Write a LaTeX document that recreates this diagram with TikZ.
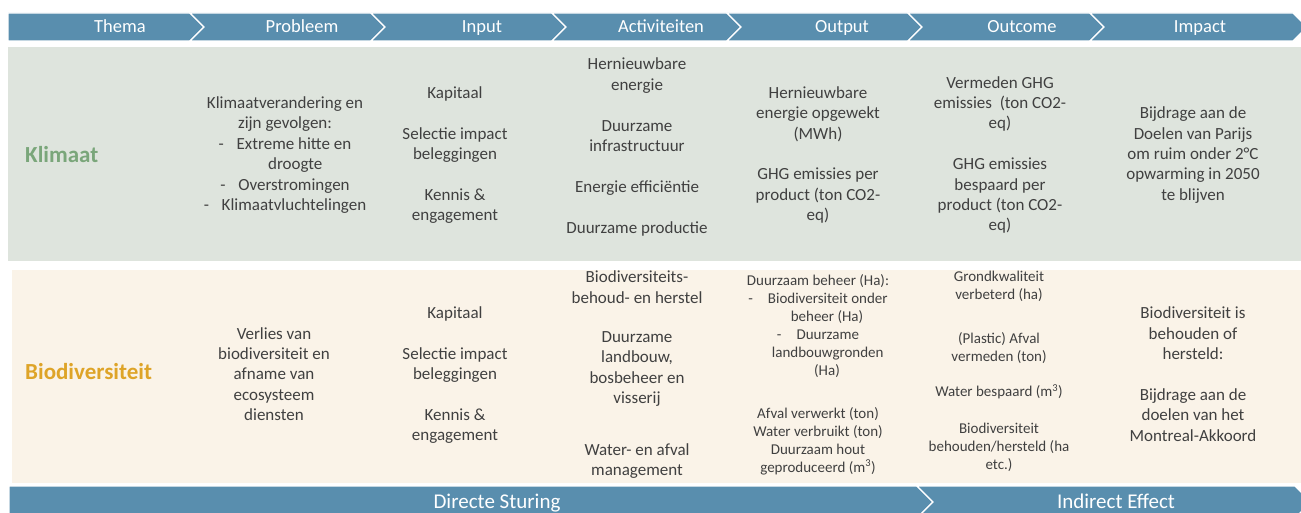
\documentclass[tikz,border=0pt]{standalone}
\usepackage{fontspec}
\setmainfont{Carlito}
\usepackage{tikz}
\usetikzlibrary{positioning}
\definecolor{barblue}{HTML}{598EAE}
\definecolor{klimbg}{HTML}{DEE4DD}
\definecolor{biobg}{HTML}{FAF3E8}
\definecolor{klimgreen}{HTML}{7AA67A}
\definecolor{biogold}{HTML}{DEA428}
\definecolor{bodytext}{HTML}{404040}
\tikzstyle{barseg} = [fill=barblue, draw=white, line width=1.2pt, line join=miter]
\tikzstyle{hdr} = [text=white, anchor=base, inner sep=0pt, font=\fontsize{18.5}{22}\selectfont]
\tikzstyle{foot} = [text=white, anchor=base, inner sep=0pt, font=\fontsize{21}{25}\selectfont]
\tikzstyle{cell} = [text=bodytext, align=center, inner sep=0pt, font=\fontsize{17}{20.4}\selectfont]
\tikzstyle{smallcell} = [cell, font=\fontsize{15}{18}\selectfont]
\tikzstyle{theme} = [anchor=west, inner sep=0pt, font=\fontsize{23}{27}\selectfont\bfseries]

\begin{document}
\begin{tikzpicture}[x=1pt, y=-1pt]

  \useasboundingbox (0,0) rectangle (1301,513);
  \clip (0,0) rectangle (1301,513);

  % Header chevrons
  \draw[barseg] (8,13) -- (190,13) -- (204,27) -- (190,41) -- (8,41) -- cycle;
  \foreach \a/\b in {190/371, 371/552, 552/727, 727/908, 908/1090, 1090/1293}
    \draw[barseg] (\a,13) -- (\b,13) -- (\b+14,27) -- (\b,41) -- (\a,41) -- (\a+14,27) -- cycle;

  \node[hdr] (hthema) at (120,33) {Thema};
  \node[hdr] (hprobleem) at (302,33) {Probleem};
  \node[hdr] (hinput) at (482,33) {Input};
  \node[hdr] (hactiv) at (661,33) {Activiteiten};
  \node[hdr] (houtput) at (842,33) {Output};
  \node[hdr] (houtcome) at (1022,33) {Outcome};
  \node[hdr] (himpact) at (1200,33) {Impact};

  % Panels
  \fill[klimbg] (8,47) rectangle (1301,261);
  \fill[biobg] (12,270) rectangle (1301,483);

  % Klimaat row
  \node[theme, text=klimgreen] (klimaat) at (25,155) {Klimaat};
  \node[cell] (kprobleem) at (285,155) {Klimaatverandering en\\zijn gevolgen:\\-\hspace{0.75em}Extreme hitte en\\\hspace{1.2em}droogte\\-\hspace{0.75em}Overstromingen\\-\hspace{0.75em}Klimaatvluchtelingen};
  \node[cell] (kinput) at (455,155) {Kapitaal\\[20.4pt]Selectie impact\\beleggingen\\[20.4pt]Kennis \&\\engagement};
  \node[cell] (kactiv) at (637,147) {Hernieuwbare\\energie\\[20.4pt]Duurzame\\infrastructuur\\[20.4pt]Energie efficiëntie\\[20.4pt]Duurzame productie};
  \node[cell] (koutput) at (818,155) {Hernieuwbare\\energie opgewekt\\(MWh)\\[20.4pt]GHG emissies per\\product (ton CO2-\\eq)};
  \node[cell] (koutcome) at (1000,155) {Vermeden GHG\\emissies~ (ton CO2-\\eq)\\[20.4pt]GHG emissies\\bespaard per\\product (ton CO2-\\eq)};
  \node[cell] (kimpact) at (1193,155) {Bijdrage aan de\\Doelen van Parijs\\om ruim onder 2°C\\opwarming in 2050\\te blijven};

  % Biodiversiteit row
  \node[theme, text=biogold] (biodiv) at (25,372) {Biodiversiteit};
  \node[cell] (bprobleem) at (274,374) {Verlies van\\biodiversiteit en\\afname van\\ecosysteem\\diensten};
  \node[cell] (binput) at (455,375) {Kapitaal\\[20.4pt]Selectie impact\\beleggingen\\[20.4pt]Kennis \&\\engagement};
  \node[cell] (bactiv1) at (637,287) {Biodiversiteits-\\behoud- en herstel};
  \node[cell] (bactiv2) at (637,369) {Duurzame\\landbouw,\\bosbeheer en\\visserij};
  \node[cell] (bactiv3) at (637,461) {Water- en afval\\management};
  \node[smallcell] (boutput1) at (818,326) {Duurzaam beheer (Ha):\\-\hspace{1em}Biodiversiteit onder\\\hspace{1.2em}beheer (Ha)\\-\hspace{1em}Duurzame\\\hspace{1.3em}landbouwgronden\\\hspace{1.2em}(Ha)};
  \node[smallcell] (boutput2) at (818,441) {Afval verwerkt (ton)\\Water verbruikt (ton)\\Duurzaam hout\\geproduceerd (m\textsuperscript{3})};
  \node[smallcell] (boutcome1) at (999,286) {Grondkwaliteit\\verbeterd (ha)};
  \node[smallcell] (boutcome2) at (999,348) {(Plastic) Afval\\vermeden (ton)};
  \node[smallcell] (boutcome3) at (999,392) {Water bespaard (m\textsuperscript{3})};
  \node[smallcell] (boutcome4) at (999,447) {Biodiversiteit\\behouden/hersteld (ha\\etc.)};
  \node[cell] (bimpact) at (1193,374) {Biodiversiteit is\\behouden of\\hersteld:\\[20.4pt]Bijdrage aan de\\doelen van het\\Montreal-Akkoord};

  % Footer chevrons
  \draw[barseg] (9,486) -- (917,486) -- (933,502) -- (917,518) -- (9,518) -- cycle;
  \draw[barseg] (917,486) -- (1295,486) -- (1311,502) -- (1295,518) -- (917,518) -- (933,502) -- cycle;
  \node[foot] (fdirect) at (497,508) {Directe Sturing};
  \node[foot] (findirect) at (1116,508) {Indirect Effect};

\end{tikzpicture}
\end{document}
